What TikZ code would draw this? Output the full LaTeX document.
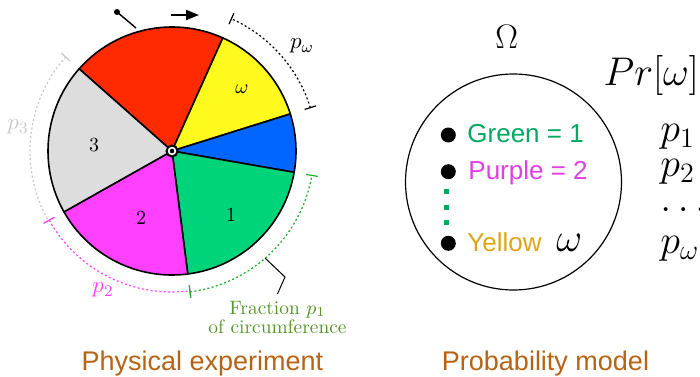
\RequirePackage{fix-cm}
\documentclass[tikz,border=0pt]{standalone}
\usepackage{fontspec}
\setsansfont{Liberation Sans}
\usetikzlibrary{arrows.meta,calc}

\definecolor{wred}{RGB}{255,42,0}
\definecolor{wyellow}{RGB}{255,250,30}
\definecolor{wblue}{RGB}{0,102,255}
\definecolor{wgreen}{RGB}{0,212,122}
\definecolor{wmagenta}{RGB}{255,64,255}
\definecolor{wgray}{RGB}{221,221,221}
\definecolor{arcgray}{RGB}{200,200,200}
\definecolor{arcgreen}{RGB}{30,175,40}
\definecolor{olive}{RGB}{85,150,40}
\definecolor{titlebrown}{RGB}{182,100,20}
\definecolor{txtgreen}{RGB}{0,168,96}
\definecolor{txtpurple}{RGB}{224,64,224}
\definecolor{txtyellow}{RGB}{222,166,20}

\tikzset{
  sector/.style={draw=black,line width=0.8pt,line join=round},
  measure/.style={line width=0.6pt,dash pattern=on 1pt off 1.2pt},
  title/.style={anchor=base,font=\sffamily\fontsize{13.5}{16}\selectfont,text=titlebrown},
  outcome/.style={anchor=base west,inner sep=0pt,font=\sffamily\fontsize{13}{15}\selectfont},
  bigmath/.style={anchor=base west,inner sep=0pt,font=\fontsize{20}{24}\selectfont},
  dot/.style={circle,fill=black,inner sep=0pt,minimum size=7.5pt}
}

\begin{document}
\begin{tikzpicture}[x=0.5pt,y=0.5pt,>={Triangle[length=6.5pt,width=5pt]}]
\useasboundingbox (0,0) rectangle (700,376);

% the spinner wheel
\coordinate (W) at (172,225);
\foreach \a/\b/\c in {65.8/138.5/wred, 17.4/65.8/wyellow, -9.9/17.4/wblue,
  -82.7/-9.9/wgreen, 209.4/277.3/wmagenta, 138.5/209.4/wgray}
  \filldraw[sector,fill=\c] (W) -- ($(W)+(\a:124)$) arc[start angle=\a,end angle=\b,radius=124] -- cycle;

\node (lw) at (242,287) {$\omega$};
\node (l3) at (94,231) {$3$};
\node (l2) at (141,158) {$2$};
\node (l1) at (231,161) {$1$};

% hub
\filldraw[line width=1pt,fill=white] (W) circle[radius=5.5];
\fill (W) circle[radius=2.3];

% pointer and direction
\coordinate (pin) at (117,364);
\coordinate (pinend) at (136,348);
\fill (pin) circle[radius=3];
\draw[line width=0.7pt] (pin) -- (pinend);
\coordinate (arrA) at (171,361);
\coordinate (arrB) at (199,361);
\draw[->,line width=0.9pt] (arrA) -- (arrB);

% fractions of circumference
\foreach \a/\b/\r/\c in {17.4/65.8/145/black, 138.5/209.4/142/arcgray,
  209.4/277.3/141/wmagenta, 277.3/350.1/142/arcgreen}{
  \draw[measure,\c] ($(W)+(\a:\r)$) arc[start angle=\a,end angle=\b,radius=\r];
  \draw[line width=0.6pt,\c] ($(W)+({\a}:{\r-6})$) -- ($(W)+({\a}:{\r+6})$);
  \draw[line width=0.6pt,\c] ($(W)+({\b}:{\r-6})$) -- ($(W)+({\b}:{\r+6})$);
}
\node[font=\fontsize{11.5}{13}\selectfont] (pw) at (302,330) {$p_\omega$};
\node[font=\fontsize{11.5}{13}\selectfont,text=arcgray] (p3) at (18,249) {$p_3$};
\node[font=\fontsize{11.5}{13}\selectfont,text=wmagenta] (p2) at (103,86) {$p_2$};

\coordinate (lead) at ($(W)+(-49:142)$);
\coordinate (kink) at (285,99);
\node[anchor=north,align=center,text=olive,font=\fontsize{9.7}{9.5}\selectfont] (frac) at (277.5,82)
  {Fraction $p_1$\\of circumference};
\draw[line width=0.5pt] (lead) -- (kink) -- (frac.north);

\node[title] (phys) at (202.5,6) {Physical experiment};

% probability model
\node[circle,draw,line width=0.6pt,inner sep=0pt,minimum size=108pt] (space) at (513.5,194) {};
\node[anchor=base west,inner sep=0pt,font=\fontsize{17}{20}\selectfont] (Om) at (495,327.7) {$\Omega$};

\node[dot] (b1) at (448.3,241) {};
\node[dot] (b2) at (448.3,204.3) {};
\node[dot] (b3) at (448.3,132.7) {};
\node[outcome,text=txtgreen] (o1) at (467,233.3) {Green = 1};
\node[outcome,text=txtpurple] (o2) at (468,196.7) {Purple = 2};
\node[outcome,text=txtyellow] (o3) at (467,124.3) {Yellow};
\node[bigmath] (ow) at (556,124.3) {$\omega$};
\draw[txtgreen,line width=2.5pt,dash pattern=on 2.5pt off 5.3pt] (446,187) -- (446,150);

\node[bigmath] (Pr) at (603.3,291) {$Pr[\omega]$};
\node[bigmath] (q1) at (660,234.3) {$p_1$};
\node[bigmath] (q2) at (660,199.3) {$p_2$};
\node[bigmath] (qd) at (660,164.3) {$\dots$};
\node[bigmath] (qw) at (660,122.7) {$p_\omega$};

\node[title] (prob) at (545.5,6) {Probability model};
\end{tikzpicture}
\end{document}
